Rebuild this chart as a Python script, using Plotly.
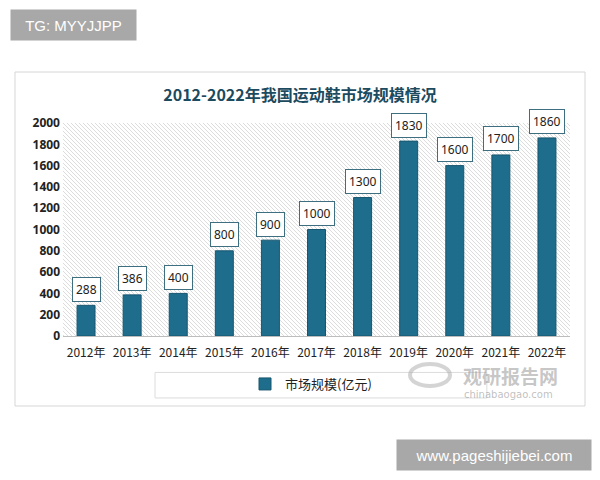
import base64
import plotly.graph_objects as go

years = ["2012年", "2013年", "2014年", "2015年", "2016年", "2017年",
         "2018年", "2019年", "2020年", "2021年", "2022年"]
market_size = [288, 386, 400, 800, 900, 1000, 1300, 1830, 1600, 1700, 1860]
series_name = "市场规模(亿元)"
title_text = "2012-2022年我国运动鞋市场规模情况"
y_ticks = [0, 200, 400, 600, 800, 1000, 1200, 1400, 1600, 1800, 2000]

BAR = "#1f6d8c"
DARK = "#1c4a5e"

# hatched plot background
svg = ("<svg xmlns='http://www.w3.org/2000/svg' width='507' height='213'>"
       "<defs><pattern id='p' width='4' height='4' patternUnits='userSpaceOnUse'>"
       "<path d='M0,0 L4,4 M-1,3 L1,5 M3,-1 L5,1' stroke='#dcdcdc' stroke-width='1'/>"
       "</pattern></defs><rect width='100%' height='100%' fill='url(#p)'/></svg>")
svg_uri = "data:image/svg+xml;base64," + base64.b64encode(svg.encode()).decode()

fig = go.Figure()
fig.add_trace(go.Bar(
    x=years, y=market_size, name=series_name,
    marker=dict(color=BAR, line=dict(color="#17566f", width=1)),
    showlegend=True,
))

# value labels in boxes
for xv, yv in zip(years, market_size):
    fig.add_annotation(
        x=xv, y=yv, text=str(yv), showarrow=False, yshift=16,
        yanchor="middle", xanchor="center",
        font=dict(family="Noto Sans, Open Sans, sans-serif", size=12, color="#222222"),
        bgcolor="white", bordercolor="#3d6f80", borderwidth=1, borderpad=3,
    )

# outer frame & legend box
fig.add_shape(type="rect", xref="paper", yref="paper",
              x0=-0.0947, x1=1.0296, y0=-0.3286, y1=1.2394,
              line=dict(color="#d6d6d6", width=1), fillcolor="rgba(0,0,0,0)", layer="below")
fig.add_shape(type="rect", xref="paper", yref="paper",
              x0=0.1815, x1=0.836, y0=-0.291, y1=-0.171,
              line=dict(color="#dcdcdc", width=1), fillcolor="white", layer="below")

# watermark
fig.add_annotation(xref="paper", yref="paper", x=(510 - 63) / 507, y=(336 - 375) / 213,
                   xanchor="center", yanchor="middle", borderpad=0,
                   text="<b>观研报告网</b>", showarrow=False,
                   font=dict(family="Noto Sans CJK SC", size=19, color="rgba(150,150,150,0.55)"))
fig.add_annotation(xref="paper", yref="paper", x=(508 - 63) / 507, y=(336 - 394) / 213,
                   xanchor="center", yanchor="middle", borderpad=0,
                   text="chinabaogao.com", showarrow=False,
                   font=dict(family="DejaVu Sans", size=10, color="rgba(150,150,150,0.6)"))
fig.add_shape(type="circle", xref="paper", yref="paper",
              x0=(410 - 63) / 507, x1=(450 - 63) / 507,
              y0=(336 - 386) / 213, y1=(336 - 364) / 213,
              line=dict(color="rgba(170,170,170,0.5)", width=4))

# corner tags
fig.add_annotation(xref="paper", yref="paper", x=(10 - 63) / 507, y=(336 - 25) / 213,
                   xanchor="left", yanchor="middle", text="TG: MYYJJPP", showarrow=False,
                   width=119, height=24, align="center",
                   bgcolor="#a8a8a8", borderpad=3,
                   font=dict(family="Liberation Sans, Arial", size=15, color="white"))
fig.add_annotation(xref="paper", yref="paper", x=(396 - 63) / 507, y=(336 - 455) / 213,
                   xanchor="left", yanchor="middle", text="www.pageshijiebei.com", showarrow=False,
                   width=188, height=24, align="center",
                   bgcolor="#a8a8a8", borderpad=3,
                   font=dict(family="Liberation Sans, Arial", size=15, color="white"))

fig.update_layout(
    width=600, height=480,
    margin=dict(l=63, r=30, t=123, b=144),
    paper_bgcolor="white", plot_bgcolor="white",
    bargap=0.61,
    title=dict(text=title_text, xref="paper", x=(300 - 63) / 507, xanchor="center",
               yref="container", y=1 - 95 / 480, yanchor="middle",
               font=dict(family="Noto Sans CJK SC", size=16, color=DARK, weight="bold")),
    legend=dict(orientation="h", xref="paper", yref="paper",
                x=(245 - 63) / 507, y=(336 - 384) / 213, xanchor="left", yanchor="middle",
                bgcolor="rgba(0,0,0,0)", itemwidth=30,
                font=dict(family="Noto Sans CJK SC", size=13, color="#222222")),
    images=[dict(source=svg_uri, xref="paper", yref="paper", x=0, y=1,
                 sizex=1, sizey=1, xanchor="left", yanchor="top",
                 sizing="stretch", layer="below")],
    showlegend=True,
)
fig.update_xaxes(showline=True, linecolor="#bdbdbd", linewidth=1, ticks="",
                 showgrid=False, ticklabelstandoff=6,
                 tickfont=dict(family="Noto Sans CJK SC", size=12, color="#222222"))
fig.update_yaxes(range=[0, 2000], tickvals=y_ticks, showgrid=False, zeroline=False,
                 showline=False, ticks="", ticklabelstandoff=2,
                 tickfont=dict(family="Noto Sans", size=12, color="#222222", weight="bold"))

fig.write_html("out.html")
